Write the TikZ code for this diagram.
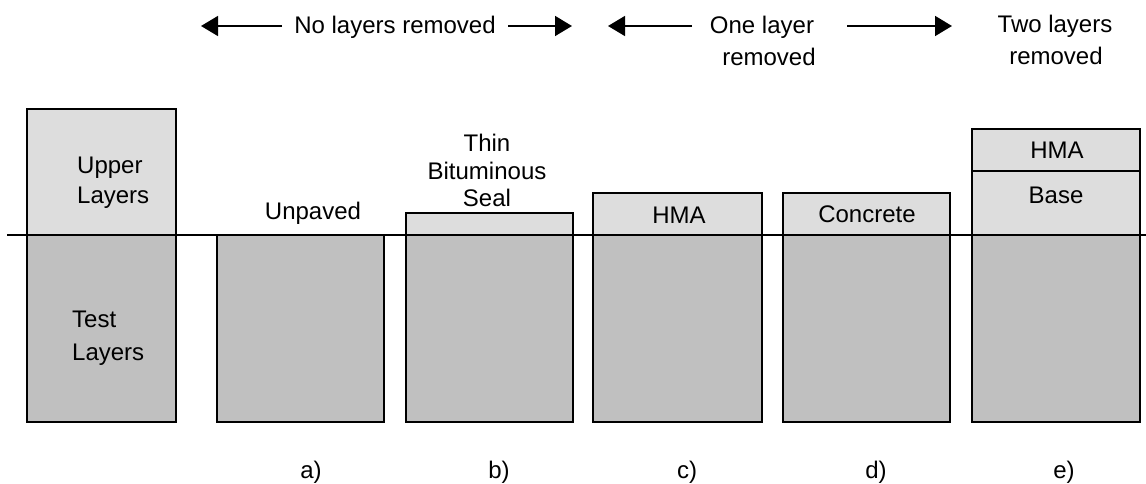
\documentclass[tikz,border=0pt]{standalone}
\usepackage{fontspec}
\setmainfont{Liberation Sans}
\usetikzlibrary{arrows.meta}
\definecolor{upperfill}{HTML}{DDDDDD}
\definecolor{lowerfill}{HTML}{C0C0C0}
\begin{document}
\begin{tikzpicture}[x=1pt,y=-1pt,
  every node/.style={font=\fontsize{24}{27}\selectfont,inner sep=0pt,anchor=base},
  lowerbox/.style={draw=black,fill=lowerfill,line width=1.9pt},
  upperbox/.style={draw=black,fill=upperfill,line width=1.9pt},
  arr/.style={line width=1.6pt,-{Triangle[length=17pt,width=20pt]}}]
\useasboundingbox (0,0) rectangle (1146,484);
% left reference column
\draw[upperbox] (27,109) rectangle (176,235);
\draw[lowerbox] (27,235) rectangle (176,422);
% a
\draw[lowerbox] (217,235) rectangle (384,422);
% b
\draw[upperbox] (406,213) rectangle (573,235);
\draw[lowerbox] (406,235) rectangle (573,422);
% c
\draw[upperbox] (593,193) rectangle (762,235);
\draw[lowerbox] (593,235) rectangle (762,422);
% d
\draw[upperbox] (783,193) rectangle (950,235);
\draw[lowerbox] (783,235) rectangle (950,422);
% e
\draw[upperbox] (972,129) rectangle (1140,171);
\draw[upperbox] (972,171) rectangle (1140,235);
\draw[lowerbox] (972,235) rectangle (1140,422);
% ground line
\coordinate (g1) at (7,235);
\coordinate (g2) at (1146,235);
\draw[line width=1.9pt] (g1) -- (g2);
% box texts
\node[anchor=base west] (up1) at (77,174) {Upper};
\node[anchor=base west] (up2) at (77,204) {Layers};
\node[anchor=base west] (tl1) at (72,327) {Test};
\node[anchor=base west] (tl2) at (72,360) {Layers};
\node (unp) at (313,219) {Unpaved};
\node (tb1) at (487,152) {Thin};
\node (tb2) at (487,179) {Bituminous};
\node (tb3) at (487,206) {Seal};
\node (hmac) at (679,223) {HMA};
\node (conc) at (867,222) {Concrete};
\node (hmae) at (1057,158) {HMA};
\node (base) at (1056,204) {Base};
% header texts
\node (nolr) at (395,34) {No layers removed};
\node (one1) at (762,34) {One layer};
\node (one2) at (769,66) {removed};
\node (two1) at (1055,33) {Two layers};
\node (two2) at (1056,65) {removed};
% arrows
\coordinate (a1s) at (282,26); \coordinate (a1e) at (201,26);
\coordinate (a2s) at (508,26); \coordinate (a2e) at (572,26);
\coordinate (a3s) at (692,26); \coordinate (a3e) at (608,26);
\coordinate (a4s) at (847,26); \coordinate (a4e) at (952,26);
\draw[arr] (a1s) -- (a1e);
\draw[arr] (a2s) -- (a2e);
\draw[arr] (a3s) -- (a3e);
\draw[arr] (a4s) -- (a4e);
% case labels
\node (la) at (311,478) {a)};
\node (lb) at (499,478) {b)};
\node (lc) at (687,478) {c)};
\node (ld) at (876,478) {d)};
\node (le) at (1064,478) {e)};
\end{tikzpicture}
\end{document}
